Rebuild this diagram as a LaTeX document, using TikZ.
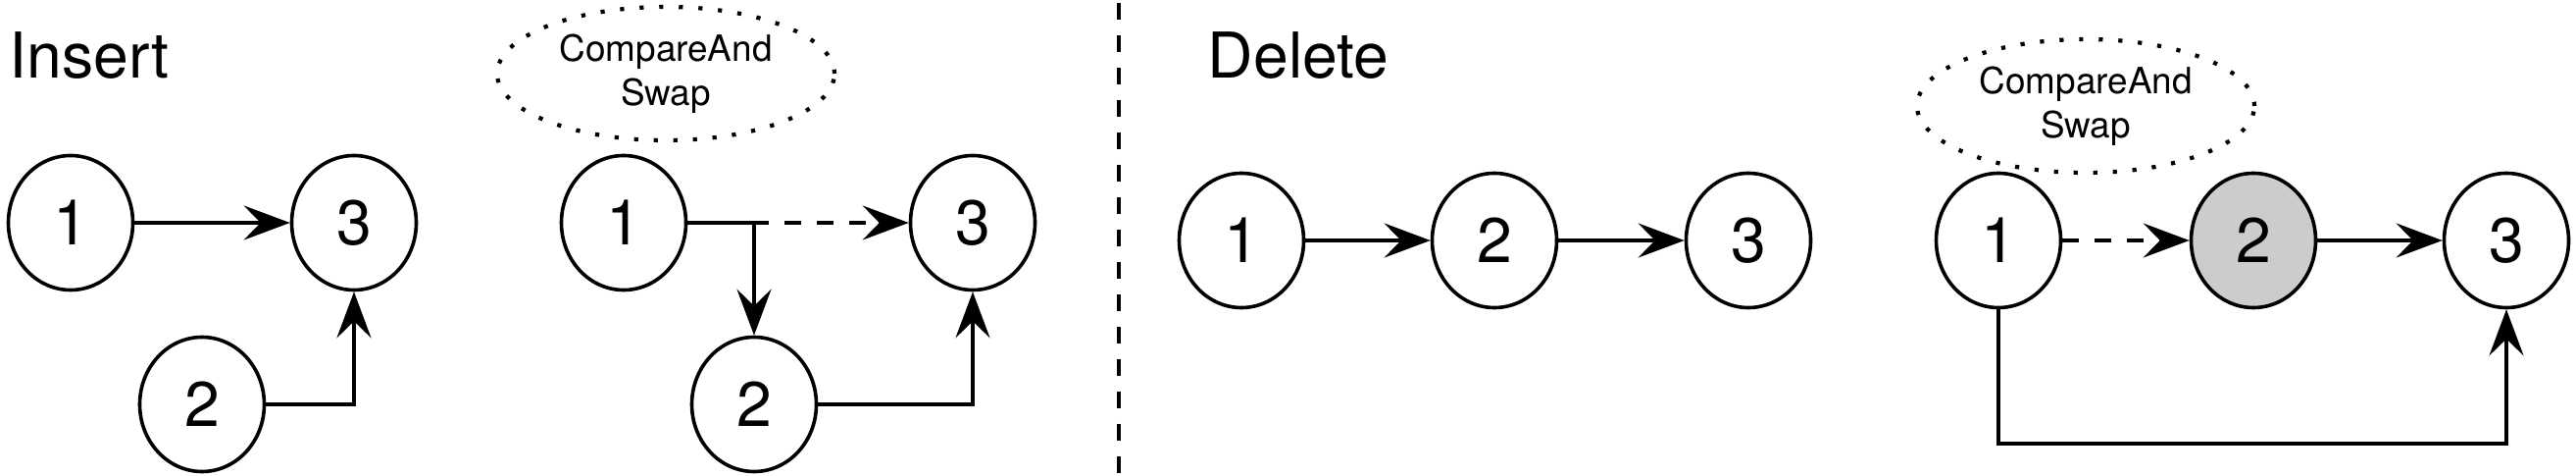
\documentclass[tikz,border=0pt]{standalone}
\usepackage{fontspec}
\setmainfont{TeX Gyre Heros}
\usetikzlibrary{shapes.geometric,arrows.meta}
\begin{document}
\begin{tikzpicture}[
      line width=0.036cm,
      every node/.style={font=\fontsize{18.3}{22}\selectfont},
      nodo/.style={draw, ellipse, minimum width=1.27cm, minimum height=1.37cm, inner sep=0pt},
      borrado/.style={nodo, fill=black!20},
      cas/.style={draw, ellipse, line width=0.042cm, dash pattern=on 0.042cm off 0.158cm,
                  minimum width=3.44cm, minimum height=1.36cm, inner sep=0pt, align=center,
                  font=\fontsize{10.5}{12.8}\selectfont},
      titulo/.style={anchor=base west, inner sep=0pt},
      flecha/.style={-{Stealth[length=0.47cm, width=0.35cm, inset=0.17cm]}},
      discont/.style={dash pattern=on 0.17cm off 0.16cm}
    ]
    \useasboundingbox (0,0) rectangle (26.27,4.85);
    % Títulos de cada mitad y separador vertical discontinuo
    \node[titulo] (tins) at (0.08,4.05) {Insert};
    \node[titulo] (tdel) at (12.30,4.05) {Delete};
    \coordinate (sepa) at (11.41,4.82);
    \coordinate (sepb) at (11.41,0);
    \draw[discont, line width=0.04cm] (sepa) -- (sepb);
    % Inserción: estado inicial
    \node[nodo] (i1) at (0.72,2.58) {1};
    \node[nodo] (i3) at (3.61,2.58) {3};
    \node[nodo] (i2) at (2.06,0.73) {2};
    \draw[flecha] (i1) -- (i3);
    \draw[flecha] (i2) -| (i3);
    % Inserción con CompareAndSwap
    \node[cas]  (ci) at (6.79,4.10) {CompareAnd\\Swap};
    \node[nodo] (c1) at (6.36,2.58) {1};
    \node[nodo] (c3) at (9.92,2.58) {3};
    \node[nodo] (c2) at (7.69,0.73) {2};
    \draw[flecha, discont] (c1) -- (c3);
    \draw[flecha] (c1) -| (c2);
    \draw[flecha] (c2) -| (c3);
    % Borrado: lista inicial
    \node[nodo] (d1) at (12.66,2.40) {1};
    \node[nodo] (d2) at (15.24,2.40) {2};
    \node[nodo] (d3) at (17.83,2.40) {3};
    \draw[flecha] (d1) -- (d2);
    \draw[flecha] (d2) -- (d3);
    % Borrado con CompareAndSwap
    \node[cas]     (cd) at (21.27,3.77) {CompareAnd\\Swap};
    \node[nodo]    (e1) at (20.38,2.40) {1};
    \node[borrado] (e2) at (22.98,2.40) {2};
    \node[nodo]    (e3) at (25.56,2.40) {3};
    \draw[flecha, discont] (e1) -- (e2);
    \draw[flecha] (e2) -- (e3);
    \draw[flecha] (e1.south) -- ++(0,-1.365) -| (e3.south);
  \end{tikzpicture}
\end{document}
